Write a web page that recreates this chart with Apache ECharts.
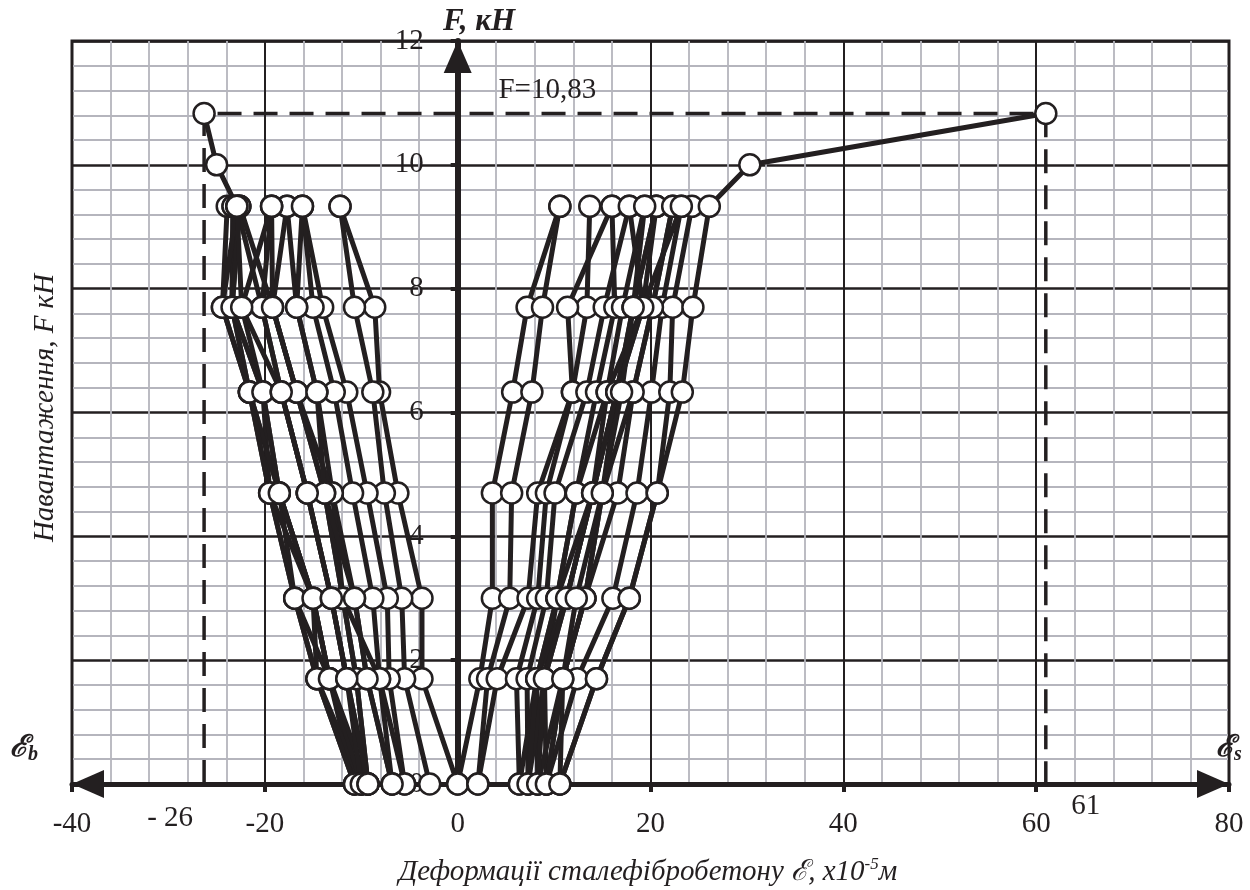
<!DOCTYPE html>
<html>
<head>
<meta charset="utf-8">
<script src="https://cdn.jsdelivr.net/npm/echarts@6/dist/echarts.min.js"></script>
<style>
  html, body { margin: 0; padding: 0; background: #fff; }
  #chart { width: 1250px; height: 890px; }
</style>
</head>
<body>
<div id="chart"></div>
<script>
// навантаження, кН (рівні ступенів)
var loadLevels = [0, 1.7, 3.0, 4.7, 6.33, 7.7, 9.33, 10, 10.83];

// деформації стиснутої зони (бетон), x10^-5
var leftCurves = [
  [0, -3.7, -3.7, -6.2, -8.1, -8.6, -12.2],
  [-2.9, -5.5, -5.8, -7.6, -8.8, -10.7, -12.2],
  [-5.5, -7.1, -7.3, -9.4, -11.5, -14.0, -16.1],
  [-6.8, -8.1, -8.8, -10.9, -12.8, -15.0, -16.1],
  [-6.8, -9.4, -10.7, -13.0, -14.6, -16.7, -17.7],
  [-9.3, -10.5, -11.9, -13.8, -16.7, -19.2, -17.7],
  [-9.3, -11.5, -13.1, -15.6, -18.3, -20.3, -19.3],
  [-10.0, -13.3, -15.0, -18.5, -20.2, -22.4, -19.3],
  [-10.7, -14.6, -16.9, -19.5, -21.6, -23.4, -22.6],
  [-10.7, -13.3, -16.9, -18.5, -21.6, -24.4, -23.9],
  [-10.0, -14.6, -15.0, -19.5, -20.2, -23.4, -23.3],
  [-5.5, -8.1, -11.9, -13.0, -16.7, -19.2, -22.6],
  [-10.0, -13.3, -15.0, -18.5, -21.6, -23.4, -23.3],
  [-10.7, -14.6, -16.9, -19.5, -21.6, -24.4, -22.9],
  [-9.3, -13.3, -15.0, -18.5, -20.2, -23.4, -22.6],
  [-10.0, -11.5, -13.1, -15.6, -18.3, -20.3, -22.9],
  [-9.3, -10.5, -11.9, -13.8, -16.7, -19.2, -19.3],
  [-6.8, -9.4, -10.7, -13.8, -14.6, -16.7, -16.1],
  [-9.3, -11.5, -13.1, -15.6, -18.3, -22.4, -22.9, -25.0, -26.3]
];

// деформації розтягнутої арматури, x10^-5
var rightCurves = [
  [0, 2.3, 3.6, 3.6, 5.7, 7.2, 10.6],
  [2.1, 3.1, 5.4, 5.6, 7.7, 8.8, 10.6],
  [2.1, 4.1, 7.3, 8.3, 11.9, 13.4, 13.7],
  [6.4, 6.1, 8.3, 9.2, 11.9, 11.4, 16.0],
  [7.3, 7.2, 9.2, 10.1, 13.4, 15.2, 17.8],
  [8.3, 8.2, 10.3, 12.3, 14.4, 16.3, 16.0],
  [9.2, 9.0, 11.3, 14.0, 15.5, 17.1, 19.4],
  [10.6, 10.9, 13.2, 15.0, 16.5, 18.2, 20.6],
  [7.3, 9.0, 10.3, 12.3, 15.5, 19.2, 17.8],
  [8.3, 10.9, 13.2, 16.6, 18.2, 20.2, 22.3],
  [9.2, 12.4, 16.1, 18.6, 20.1, 21.2, 23.2],
  [10.6, 14.4, 17.8, 20.7, 22.0, 22.3, 24.3],
  [6.4, 8.2, 11.3, 14.0, 16.5, 18.2, 20.6],
  [7.3, 8.2, 10.3, 14.0, 16.5, 19.2, 20.6],
  [9.2, 10.9, 13.2, 15.0, 18.2, 20.2, 22.3],
  [8.3, 9.0, 11.3, 14.0, 16.5, 19.2, 23.2],
  [9.2, 10.9, 12.3, 15.0, 17.0, 18.2, 19.4],
  [10.6, 14.4, 17.8, 20.7, 23.3, 24.4, 26.1, 30.3, 61]
];

// граничні значення
var limitLoad = 10.83;
var limitLeft = -26.3;
var limitRight = 61;
var limitLines = [[limitLeft, 0], [limitLeft, limitLoad], [limitRight, limitLoad], [limitRight, 0]];

var ink = "#231f20";
var minorGray = "#b5b5bd";
var serif = "'Liberation Serif', 'DejaVu Serif', serif";

function toPoints(xs) {
  return xs.map(function(x, i) {
    return [x, loadLevels[i]];
  });
}

var allCurves = leftCurves.concat(rightCurves);
var series = [];

series.push({
  type: "line",
  data: limitLines,
  symbol: "none",
  lineStyle: { color: ink, width: 3.5, type: [24, 12] },
  z: 1,
  silent: true
});

allCurves.forEach(function(xs) {
  series.push({
    type: "line",
    data: toPoints(xs),
    symbol: "none",
    lineStyle: { color: ink, width: 5 },
    z: 2,
    silent: true
  });
});

allCurves.forEach(function(xs) {
  series.push({
    type: "scatter",
    data: toPoints(xs),
    symbol: "circle",
    symbolSize: 21,
    clip: false,
    itemStyle: { color: "#fff", borderColor: ink, borderWidth: 2.5, opacity: 1 },
    z: 3,
    silent: true
  });
});

// підписи
series.push({
  type: "scatter",
  symbolSize: 0,
  clip: false,
  z: 4,
  silent: true,
  itemStyle: { opacity: 1 },
  data: [
    { value: [limitLeft, 0], label: { formatter: "- 26", offset: [-34, 34] } },
    { value: [limitRight, 0], label: { formatter: "61", offset: [40, 22] } },
    { value: [9.3, 11.2], label: { formatter: "F=10,83", offset: [0, 0] } }
  ],
  label: {
    show: true,
    position: "inside",
    color: ink,
    opacity: 1,
    fontFamily: serif,
    fontSize: 29
  }
});

var chart = echarts.init(document.getElementById("chart"));
chart.setOption({
  animation: false,
  backgroundColor: "#fff",
  grid: {
    left: 72,
    right: 21,
    top: 41,
    bottom: 106,
    show: true,
    borderColor: ink,
    borderWidth: 3
  },
  xAxis: {
    type: "value",
    min: -40,
    max: 80,
    interval: 20,
    axisLine: {
      onZero: true,
      lineStyle: { color: ink, width: 5 },
      symbol: ["triangle", "triangle"],
      symbolSize: [28, 32],
      symbolOffset: [16, -16]
    },
    axisTick: { show: true, length: 8, lineStyle: { color: ink, width: 4 } },
    axisLabel: { margin: 26, fontSize: 29, fontFamily: serif, color: ink },
    splitLine: { show: true, lineStyle: { color: ink, width: 2 } },
    minorTick: { show: false, splitNumber: 5 },
    minorSplitLine: { show: true, lineStyle: { color: minorGray, width: 1.8 } }
  },
  yAxis: {
    type: "value",
    min: 0,
    max: 12,
    interval: 2,
    axisLine: {
      onZero: false,
      lineStyle: { color: ink, width: 6 },
      symbol: ["none", "triangle"],
      symbolSize: [28, 32],
      symbolOffset: [0, -16]
    },
    axisTick: { show: true, length: 7, lineStyle: { color: ink, width: 4 } },
    axisLabel: { margin: 34, fontSize: 29, fontFamily: serif, color: ink },
    splitLine: { show: true, lineStyle: { color: ink, width: 2.5 } },
    minorTick: { show: false, splitNumber: 5 },
    minorSplitLine: { show: true, lineStyle: { color: minorGray, width: 1.8 } }
  },
  graphic: [
    {
      type: "text",
      left: 443,
      top: 6,
      style: {
        text: "F, кН",
        fill: ink,
        font: "italic bold 31px " + serif
      }
    },
    {
      type: "text",
      left: 10,
      top: 733,
      style: {
        text: "{e|ℰ}{s|b}",
        fill: ink,
        rich: {
          e: { fontFamily: serif, fontStyle: "italic", fontWeight: "bold", fontSize: 30, fill: ink },
          s: { fontFamily: serif, fontStyle: "italic", fontWeight: "bold", fontSize: 20, fill: ink, padding: [14, 0, 0, 0] }
        }
      }
    },
    {
      type: "text",
      left: 1216,
      top: 733,
      style: {
        text: "{e|ℰ}{s|s}",
        fill: ink,
        rich: {
          e: { fontFamily: serif, fontStyle: "italic", fontWeight: "bold", fontSize: 30, fill: ink },
          s: { fontFamily: serif, fontStyle: "italic", fontWeight: "bold", fontSize: 20, fill: ink, padding: [14, 0, 0, 0] }
        }
      }
    },
    {
      type: "text",
      x: 45,
      y: 408,
      rotation: Math.PI / 2,
      style: {
        text: "Навантаження, F кН",
        fill: ink,
        font: "italic 29px " + serif,
        align: "center",
        verticalAlign: "middle"
      }
    },
    {
      type: "text",
      x: 648,
      y: 872,
      style: {
        text: "{t|Деформації сталефібробетону ℰ, х10}{p|-5}{t|м}",
        align: "center",
        verticalAlign: "middle",
        rich: {
          t: { fontFamily: serif, fontStyle: "italic", fontSize: 29, fill: ink },
          p: { fontFamily: serif, fontStyle: "italic", fontSize: 17, fill: ink, padding: [0, 0, 14, 0] }
        }
      }
    }
  ],
  series: series
});

// вісь навантаження проходить через нуль деформацій
var zeroPx = chart.convertToPixel({ xAxisIndex: 0 }, 0);
var leftPx = chart.convertToPixel({ xAxisIndex: 0 }, -40);
chart.setOption({ yAxis: { offset: -(zeroPx - leftPx) } });
</script>
</body>
</html>
